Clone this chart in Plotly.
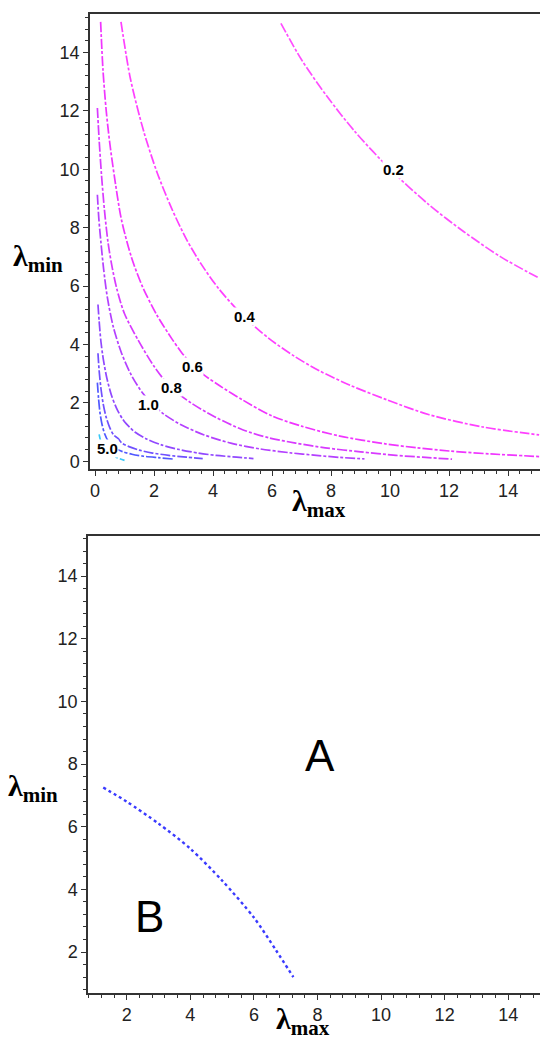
import plotly.graph_objects as go

W, H = 540, 1044

# ---------------- top panel: contour lines ----------------
c02_x = [6.3, 7.0, 7.86, 8.8, 10.0, 11.3, 12.5, 13.75, 15.0]
c02_y = [15.0, 13.75, 12.5, 11.3, 10.0, 8.8, 7.86, 7.0, 6.3]

c04_x = [0.88, 1.2, 1.65, 2.1, 2.6, 3.1, 3.6, 4.2, 5.0, 5.9, 6.75, 7.6, 8.65, 9.9, 11.3, 13.1, 15.05]
c04_y = [15.05, 13.1, 11.3, 9.9, 8.65, 7.6, 6.75, 5.9, 5.0, 4.2, 3.6, 3.1, 2.6, 2.1, 1.6, 1.18, 0.9]

c06_x = [0.19, 0.27, 0.38, 0.5, 0.65, 0.89, 1.23, 1.6, 2.1, 2.6, 2.95, 3.3, 3.7, 4.2, 5.0, 6.0, 7.0, 8.3, 9.8, 10.9, 12.0, 13.4, 15.05]
c06_y = [15.05, 13.4, 12.0, 10.9, 9.8, 8.3, 7.0, 6.0, 5.0, 4.2, 3.7, 3.3, 2.95, 2.6, 2.1, 1.55, 1.2, 0.86, 0.6, 0.46, 0.35, 0.25, 0.16]

c08_x = [0.08, 0.14, 0.22, 0.32, 0.44, 0.57, 0.74, 1.0, 1.46, 2.0, 2.55, 3.25, 4.1, 5.0, 5.9, 6.8, 7.8, 9.0, 10.2, 11.2, 12.1]
c08_y = [12.1, 11.0, 9.8, 8.6, 7.5, 6.7, 5.9, 5.05, 4.15, 3.25, 2.55, 2.0, 1.5, 1.08, 0.8, 0.62, 0.46, 0.32, 0.2, 0.13, 0.07]

c10_x = [0.08, 0.13, 0.2, 0.29, 0.42, 0.62, 0.9, 1.23, 1.6, 1.95, 2.35, 2.95, 3.7, 4.6, 5.6, 6.6, 7.5, 8.3, 9.13]
c10_y = [9.13, 8.3, 7.5, 6.6, 5.6, 4.6, 3.7, 2.95, 2.35, 1.95, 1.6, 1.23, 0.9, 0.62, 0.42, 0.29, 0.2, 0.13, 0.08]

c20_x = [0.10, 0.14, 0.2, 0.28, 0.4, 0.56, 0.76, 1.0, 1.17, 1.35, 1.75, 2.25, 2.85, 3.5, 4.1, 4.8, 5.37]
c20_y = [5.37, 4.8, 4.1, 3.5, 2.85, 2.25, 1.75, 1.35, 1.17, 1.0, 0.76, 0.56, 0.4, 0.28, 0.2, 0.14, 0.09]

c30_x = [0.10, 0.14, 0.2, 0.28, 0.38, 0.5, 0.63, 0.78, 0.9, 1.15, 1.5, 1.95, 2.5, 3.1, 3.65]
c30_y = [3.70, 3.1, 2.5, 1.95, 1.5, 1.15, 0.9, 0.78, 0.63, 0.5, 0.38, 0.28, 0.2, 0.14, 0.09]

c40_x = [0.08, 0.12, 0.17, 0.24, 0.33, 0.44, 0.57, 0.7, 0.93, 1.25, 1.65, 2.15, 2.7]
c40_y = [2.69, 2.15, 1.65, 1.25, 0.93, 0.7, 0.57, 0.44, 0.33, 0.24, 0.17, 0.12, 0.07]

c50_x = [0.14, 0.21, 0.37, 0.5, 0.75, 1.0]
c50_y = [0.92, 0.64, 0.4, 0.24, 0.12, 0.03]

contours = [
    (c02_x, c02_y, "#ff4dff"),
    (c04_x, c04_y, "#ff40ff"),
    (c06_x, c06_y, "#f035ff"),
    (c08_x, c08_y, "#d83aff"),
    (c10_x, c10_y, "#b440ff"),
    (c20_x, c20_y, "#9148ff"),
    (c30_x, c30_y, "#7050ff"),
    (c40_x, c40_y, "#5058ff"),
    (c50_x, c50_y, "#38c8f8"),
]

label_text = ["0.2", "0.4", "0.6", "0.8", "1.0", "5.0"]
label_x = [10.1, 5.08, 3.29, 2.58, 1.80, 0.41]
label_y = [9.98, 4.96, 3.25, 2.53, 1.95, 0.44]

# ---------------- bottom panel: boundary curve between regions A and B ----------------
b_x = [1.26, 2.0, 3.0, 4.0, 5.0, 6.0, 6.7, 7.24]
b_y = [7.25, 6.8, 6.1, 5.3, 4.28, 3.1, 2.05, 1.2]

region_text = ["A", "B"]
region_x = [8.08, 2.73]
region_y = [8.27, 3.15]

fig = go.Figure()

for cx, cy, col in contours:
    fig.add_trace(go.Scatter(x=cx, y=cy, mode="lines", xaxis="x", yaxis="y",
                             line=dict(color=col, width=1.7, dash="10px,2px,3px,2px", shape="spline", smoothing=0.8),
                             showlegend=False, hoverinfo="skip"))

fig.add_trace(go.Scatter(x=b_x, y=b_y, mode="lines", xaxis="x2", yaxis="y2",
                         line=dict(color="#3a3aff", width=2.4, dash="3px,3px", shape="spline", smoothing=0.8),
                         showlegend=False, hoverinfo="skip"))

annotations = []
for t, lx, ly in zip(label_text, label_x, label_y):
    annotations.append(dict(x=lx, y=ly, xref="x", yref="y", text="<b>%s</b>" % t,
                            showarrow=False, bgcolor="white", borderpad=0,
                            font=dict(family="Liberation Sans, Arial", size=15, color="black")))
for t, rx, ry in zip(region_text, region_x, region_y):
    annotations.append(dict(x=rx, y=ry, xref="x2", yref="y2", text=t, showarrow=False,
                            font=dict(family="Liberation Sans, Arial", size=44, color="black")))

def ltitle(sub, px, py, anchor="middle"):
    return dict(x=px / W, y=1 - py / H, xref="paper", yref="paper",
                xanchor="left", yanchor=anchor, showarrow=False,
                text="<b>λ<sub>%s</sub></b>" % sub,
                font=dict(family="Liberation Serif, Times New Roman", size=30, color="black"))

annotations += [
    ltitle("min", 11, 258),
    ltitle("max", 290, 504),
    ltitle("min", 6, 790),
    ltitle("max", 274, 1044, "bottom"),
]

axis_common = dict(showgrid=False, zeroline=False, showline=True, linecolor="#333",
                   linewidth=1.5, ticks="outside", ticklen=5, tickwidth=1.3, tickcolor="#333",
                   dtick=2, tick0=0,
                   tickfont=dict(family="Liberation Sans, Arial", size=18, color="#222"),
                   minor=dict(dtick=0.4, ticks="outside", ticklen=3, tickcolor="#333", tickwidth=1))

fig.update_layout(
    width=W, height=H, margin=dict(l=0, r=0, t=0, b=0),
    paper_bgcolor="white", plot_bgcolor="white",
    xaxis=dict(axis_common, domain=[90 / W, 1], range=[-0.17, 15.08], anchor="y", mirror=True),
    yaxis=dict(axis_common, domain=[1 - 470 / H, 1 - 14 / H], range=[-0.27, 15.32], anchor="x"),
    xaxis2=dict(axis_common, domain=[88 / W, 1], range=[0.78, 15.0], anchor="y2", mirror=True),
    yaxis2=dict(axis_common, domain=[1 - 995 / H, 1 - 537 / H], range=[0.69, 15.28], anchor="x2"),
    annotations=annotations,
)

fig.write_html("out.html")
